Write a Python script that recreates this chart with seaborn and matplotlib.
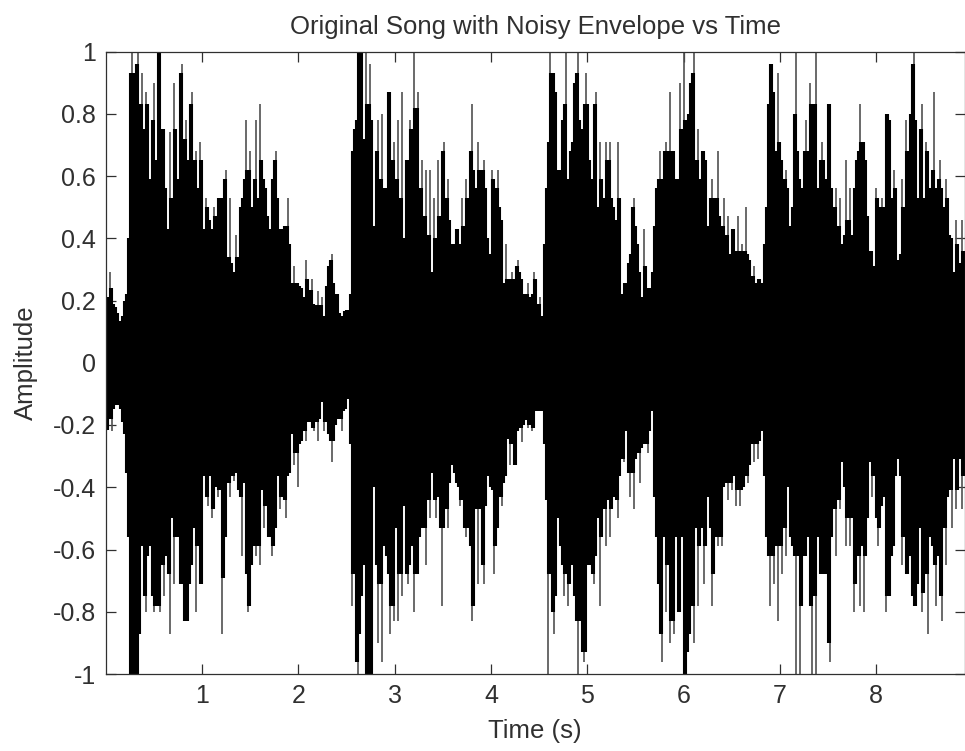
import numpy as np
import pandas as pd
import seaborn as sns
import matplotlib.pyplot as plt

# Envelope of the song, one value per plotted column
upper_a = [.20,.21,.29,.24,.19,.18,.16,.135,.15,.20,.22,.40,.93,1,.93,.96,1,.83,.93,.75,
           .87,.83,.59,.78,.90,.65,1,1,.75,.75,.56,.43,.74,.53,.90,.75,.59,.93,.96,.72,
           .78,.65,.83,.87,.65,.68,.56,.71,.65,.43,.53,.50,.46,.43,.50,.47,.53,.53,.53,.59,
           .62,.34,.53,.32,.29,.41,.34,.50,.53,.59,.78,.62,.68,.50,.59,.78,.53,.83,.65,.59,
           .56,.47,.43,.59,.65,.68,.53,.43,.43,.44,.44,.53,.38,.255,.31,.255,.255,.245,.24,.21,
           .33,.27,.235,.27,.19,.185,.23,.185,.21,.15,.245,.31,.33,.35,.255,.22,.22,.16,.15,.165,
           .17,.17,.22,.68,.75,.78,1,1,1,.72,1,.83,.96,.78,.44,.68,.78,.59,.80,.56,
           .56,.87]
upper_b = [.87,.65,.71,.59,.78,.53,.87,.40,.65,.65,.78,.75,1,.82,.87,.56,.65,.47,.62,.41,
           .62,.29,.53,.40,.65,.47,.68,.71,.53,.59,.46,.38,.38,.43,.43,.38,.53,.44,.59,.53,
           .68,.83,.62,.56,.71,.62,.62,.65,.56,.40,.35,.62,.59,.56,.62,.50,.46,.255,.38,.27,
           .27,.29,.27,.31,.33,.29,.27,.22,.22,.255,.21,.22,.29,.27,.19,.21,.15,.38,.56,.71,
           1,.93,.93,.87,.62,.62,.78,.83,1,.59,.68,.71,.90,.93,1,.78,.75,.83,.93,.83,
           .65,.59,.83,.87,.50,.71,.59,.53,.71,.65,.71,.53,.50,.46,.71,.53,.22,.255,.255,.32,
           .35,.50,.53,.44,.38,.29,.21,.43,.31,.24,.24,.29,.44,.56,.59,.68,.59,.68,.71,.68,
           .87,.68,.68,.59,.59]
upper_c = [.90,.75,1,.78,.80,.90,.93,1,.65,.75,.59,.68,.68,.65,.44,.53,.59,.53,.53,.68,
           .47,.44,.53,.41,.47,.35,.43,.43,.36,.47,.36,.38,.36,.50,.35,.33,.28,.31,.255,.27,
           .27,.255,.38,.50,.83,.96,.96,.87,.68,.93,.71,.65,.59,.62,.56,.44,.50,.80,1,.68,
           .59,.56,.68,.78,.68,.90,.83,.83,1,.56,.65,.71,.65,.59,.83,.83,.56,.50,.56,.44,
           .53,.38,.41,.65,.46,.56,.41,.56,.65,.68,.83,.71,.71,.65,.47,.36,.36,.31,.56,.53,
           .50,.53,.50,.80,.80,.78,.53,.62,.56,.33,.35,.59,.50,.78,.68,.80,.96,1,.78,.53,
           .75,.83,.53,.71,.68,.56,.62,.87,.56,.59,.65,.56,.50,.59,.53,.41,.40,.29,.46,.38,
           .32,.46,.36]

lower_a = [-.22,-.215,-.18,-.22,-.15,-.135,-.135,-.15,-.19,-.23,-.355,-.56,-1,-1,-1,-1,-1,-.87,-.59,-.75,
           -.80,-.62,-.59,-.75,-.80,-.78,-.78,-.80,-.65,-.75,-.62,-.68,-.87,-.50,-.71,-.56,-.56,-.71,-.71,-.83,
           -.83,-.83,-.71,-.65,-.53,-.80,-.59,-.71,-.71,-.365,-.43,-.46,-.365,-.50,-.47,-.40,-.43,-.41,-.87,-.69,
           -.56,-.385,-.43,-.365,-.38,-.355,-.41,-.43,-.62,-.385,-.68,-.80,-.78,-.65,-.59,-.62,-.59,-.65,-.41,-.53,
           -.46,-.56,-.56,-.62,-.59,-.53,-.365,-.47,-.43,-.44,-.50,-.365,-.355,-.23,-.33,-.29,-.40,-.26,-.25,-.22,
           -.25,-.19,-.19,-.21,-.22,-.19,-.25,-.18,-.125,-.22,-.19,-.23,-.25,-.32,-.25,-.20,-.18,-.18,-.22,-.155,
           -.15,-.115,-.26,-.78,-.68,-.96,-1,-.87,-.75,-.65,-1,-1,-1,-1,-.40,-.65,-.90,-.71,-.96,-.59,
           -.62,-.68]
lower_b = [-.87,-.78,-.83,-.53,-.83,-.68,-.75,-.46,-.68,-.71,-.65,-.59,-.80,-.68,-.68,-.56,-.53,-.53,-.65,-.44,
           -.50,-.355,-.44,-.50,-.43,-.53,-.78,-.53,-.47,-.53,-.385,-.33,-.355,-.385,-.40,-.46,-.44,-.53,-.56,-.53,
           -.59,-.83,-.78,-.47,-.71,-.47,-.65,-.71,-.46,-.365,-.40,-.41,-.68,-.59,-.53,-.43,-.46,-.385,-.365,-.245,
           -.33,-.26,-.33,-.33,-.22,-.21,-.255,-.20,-.185,-.21,-.20,-.22,-.21,-.155,-.155,-.155,-.155,-.26,-.44,-1,
           -.68,-.80,-.87,-.75,-.50,-.59,-.65,-.75,-.68,-.78,-.71,-.65,-.75,-.83,-1,-.83,-.93,-.96,-.93,-.65,
           -.65,-.68,-.71,-.62,-.50,-.78,-.56,-.47,-.59,-.44,-.56,-.47,-.43,-.44,-.50,-.365,-.31,-.32,-.22,-.355,
           -.43,-.355,-.47,-.31,-.29,-.385,-.275,-.26,-.26,-.29,-.22,-.155,-.43,-.56,-.71,-.87,-.96,-.56,-.80,-.65,
           -.90,-.83,-.87,-.56,-.80]
lower_c = [-.80,-.56,-1,-1,-.93,-.87,-.78,-.90,-.53,-.78,-.59,-.53,-.71,-.59,-.43,-.53,-.78,-.68,-.56,-.59,
           -.56,-.59,-.40,-.385,-.44,-.385,-.41,-.365,-.46,-.41,-.46,-.41,-.40,-.365,-.385,-.33,-.26,-.32,-.26,-.31,
           -.25,-.22,-.365,-.56,-.62,-.78,-.62,-.71,-.59,-.83,-.59,-.68,-.53,-.62,-.40,-.56,-.59,-.62,-1,-.62,
           -1,-.78,-.62,-.62,-.56,-.78,-1,-.75,-1,-.56,-.68,-.68,-.68,-.68,-.90,-.96,-.56,-.47,-.62,-.44,
           -.47,-.32,-.40,-.59,-.50,-.59,-.50,-.80,-.71,-.62,-.78,-.59,-.80,-.62,-.50,-.32,-.43,-.365,-.50,-.59,
           -.53,-.46,-.43,-.80,-.75,-.75,-.62,-.59,-.365,-.31,-.365,-.65,-.56,-.68,-.68,-.62,-.75,-.78,-.78,-.71,
           -.53,-.80,-.74,-.68,-.87,-.56,-.59,-.65,-.78,-.62,-.75,-.83,-.53,-.65,-.43,-.41,-.53,-.31,-.47,-.41,
           -.31,-.47,-.365]

x_ticks = [1, 2, 3, 4, 5, 6, 7, 8]
y_ticks = [-1, -0.8, -0.6, -0.4, -0.2, 0, 0.2, 0.4, 0.6, 0.8, 1]
y_labels = ['-1', '-0.8', '-0.6', '-0.4', '-0.2', '0', '0.2', '0.4', '0.6', '0.8', '1']

sns.set_theme(style='ticks')
plt.rcParams['font.family'] = ['Liberation Sans', 'DejaVu Sans']

upper = np.array(upper_a + upper_b + upper_c)
lower = np.array(lower_a + lower_b + lower_c)

# one column every 2 px on a 96.4 px per second axis
n = min(len(upper), len(lower))
upper, lower = upper[:n], lower[:n]
time = 0.005 + np.arange(n) * 2 / 96.4

# body is what neighbouring columns also reach, so lone peaks stay as thin grey spikes
body_up = upper.copy()
body_low = lower.copy()
for i in range(1, n - 1):
    body_up[i] = min(upper[i], max(upper[i - 1], upper[i + 1]))
    body_low[i] = max(lower[i], min(lower[i - 1], lower[i + 1]))


def columns(lo, hi):
    return pd.DataFrame({
        'time': np.concatenate([time, time]),
        'amp': np.concatenate([lo, hi]),
        'col': np.concatenate([np.arange(n), np.arange(n)]),
    })


fig = plt.figure(figsize=(9.65, 7.51), dpi=100)
ax = fig.add_axes([105.5 / 965, 1 - 674 / 751, (965 - 105.5) / 965, (674 - 51.5) / 751])

sns.lineplot(data=columns(lower, upper), x='time', y='amp', units='col', estimator=None,
             color='#505050', linewidth=1.2, solid_capstyle='butt', ax=ax, legend=False)
sns.lineplot(data=columns(body_low, body_up), x='time', y='amp', units='col', estimator=None,
             color='black', linewidth=1.5, solid_capstyle='butt', ax=ax, legend=False)

ax.set_xlim(0, 8.92)
ax.set_ylim(-1, 1)
ax.set_xticks(x_ticks)
ax.set_yticks(y_ticks)
ax.set_yticklabels(y_labels)
ax.tick_params(direction='in', length=7.2, width=0.9, color='#303030', top=True, right=True,
               labelsize=18, labelcolor='#303030')
ax.tick_params(axis='x', pad=7.5)
ax.tick_params(axis='y', pad=7)
for side in ax.spines.values():
    side.set_visible(True)
    side.set_linewidth(0.9)
    side.set_color('#303030')

ax.set_title('Original Song with Noisy Envelope vs Time', fontsize=18.5, color='#303030', pad=12.5)
ax.set_xlabel('Time (s)', fontsize=18.5, color='#303030')
ax.set_ylabel('Amplitude', fontsize=18.5, color='#303030')
ax.xaxis.set_label_coords(0.5, -0.072)
ax.yaxis.set_label_coords(-0.0785, 0.5)

plt.savefig('out.png', dpi=100)
